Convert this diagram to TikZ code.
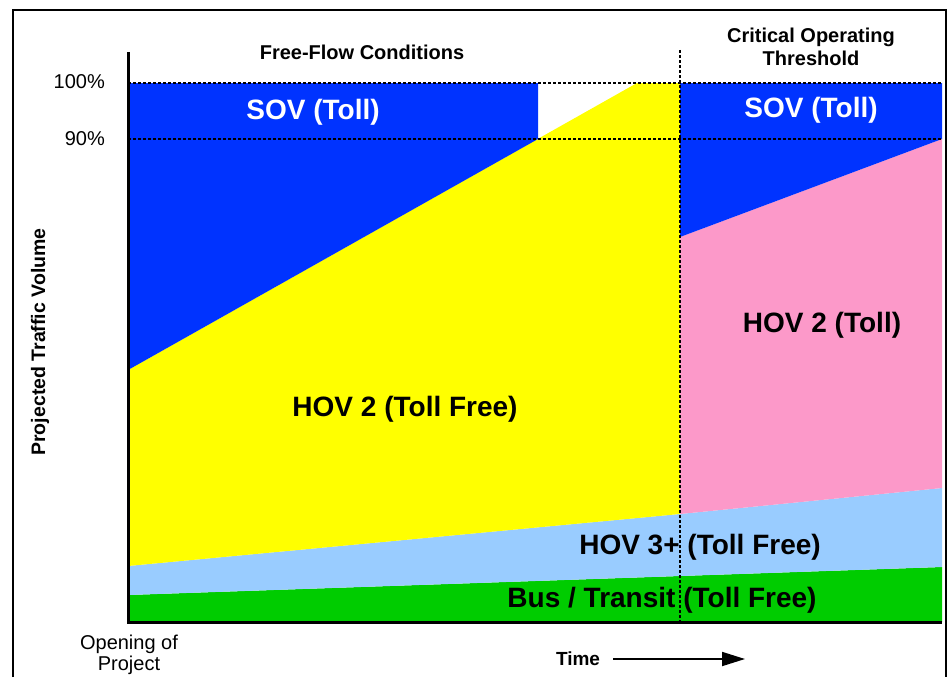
\documentclass[tikz,border=0pt]{standalone}
\usepackage{fontspec}
\setmainfont{Liberation Sans}
\usepackage{tikz}
\usetikzlibrary{arrows.meta}
\tikzset{>={Triangle[width=14pt,length=23pt]}}
\definecolor{sovblue}{HTML}{0033FF}
\definecolor{hovyellow}{HTML}{FFFF00}
\definecolor{hovpink}{HTML}{FC99C9}
\definecolor{hovlight}{HTML}{99CCFF}
\definecolor{busgreen}{HTML}{00CC00}
\tikzset{
  biglbl/.style={font=\fontsize{28}{30}\selectfont\bfseries, inner sep=0pt},
  smalllbl/.style={font=\fontsize{20}{22}\selectfont, inner sep=0pt, align=center},
  guide/.style={line width=1.4pt, dash pattern=on 3pt off 2pt},
}

\begin{document}
\begin{tikzpicture}[x=1pt,y=-1pt]

  \newcommand\LX{128}
  \newcommand\MX{680}
  \newcommand\RX{942}

  \useasboundingbox (0,0) rectangle (949,677);

  %% outer frame
  \draw[line width=1.6pt] (13,677) -- (13,10) -- (946,10) -- (946,677);

  %% traffic shares
  \fill[busgreen] (\LX,622) -- (\LX,595) -- (\RX,567) -- (\RX,622) -- cycle;
  \fill[hovlight] (\LX,595) -- (\LX,566) -- (\MX,514) -- (\RX,488)
  -- (\RX,567) -- cycle;
  \fill[hovyellow] (\LX,566) -- (\LX,370) -- (637,83) -- (\MX,83)
  -- (\MX,514) -- cycle;
  \fill[sovblue] (\LX,370) -- (\LX,83) -- (538,83) -- (538,139) -- cycle;
  \fill[hovpink] (\MX,514) -- (\MX,237) -- (\RX,139) -- (\RX,488) -- cycle;
  \fill[sovblue] (\MX,237) -- (\MX,83) -- (\RX,83) -- (\RX,139) -- cycle;

  %% thresholds
  \draw[guide] (\LX,83) -- (\RX,83);   %% 100%
  \draw[guide] (\LX,139) -- (\RX,139); %% 90%
  \draw[guide] (\MX,50) -- (\MX,622);  %% critical

  %% axes
  \draw[line width=3pt, line join=miter] (\LX,52) -- (\LX,622) -- (\RX,622);

  %% labels
  \node[smalllbl, anchor=east] (p100) at (105,82) {100\%};
  \node[smalllbl, anchor=east] (p90) at (105,139) {90\%};

  \node[smalllbl, font=\fontsize{20}{22}\selectfont\bfseries] (free)
  at (362,52) {Free-Flow Conditions};
  \node[smalllbl, font=\fontsize{20}{23}\selectfont\bfseries] (crit)
  at (811,47) {Critical Operating\\Threshold};

  \node[biglbl, text=white] (sovl) at (313,112) {SOV (Toll)};
  \node[biglbl, text=white] (sovr) at (811,110) {SOV (Toll)};
  \node[biglbl] (hov2free) at (405,409) {HOV 2 (Toll Free)};
  \node[biglbl] (hov2toll) at (822,325) {HOV 2 (Toll)};
  \node[biglbl] (hov3) at (700,547) {HOV 3+ (Toll Free)};
  \node[biglbl] (bus) at (662,600) {Bus / Transit (Toll Free)};

  \node[smalllbl, font=\fontsize{19.5}{21}\selectfont\bfseries, rotate=90]
  (yaxis) at (40,342) {Projected Traffic Volume};
  \node[smalllbl, font=\fontsize{20}{21}\selectfont] (opening)
  at (129,655) {Opening of\\Project};

  \node[smalllbl, font=\fontsize{19}{21}\selectfont\bfseries] (time)
  at (578,659) {Time};
  \coordinate (timeend) at (745,659);
  \draw[->, line width=1.8pt] ([xshift=13pt]time.east) -- (timeend);

\end{tikzpicture}
\end{document}
